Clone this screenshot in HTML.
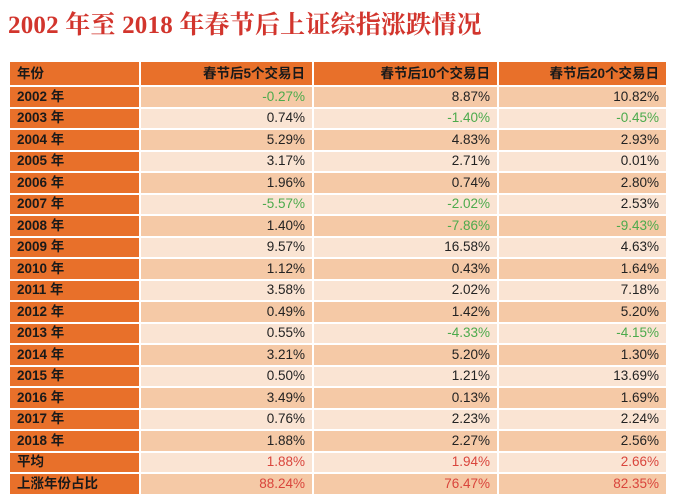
<!DOCTYPE html>
<html><head><meta charset="utf-8">
<style>
body{margin:0;width:700px;height:497px;background:#fff;overflow:hidden;font-family:"Liberation Sans","Noto Sans CJK SC",sans-serif;}
h1{position:absolute;left:8px;top:5px;margin:0;font-family:"Liberation Serif","Noto Serif CJK SC",serif;font-weight:bold;font-size:25px;color:#d2352d;letter-spacing:0.2px;}
table{position:absolute;left:10px;top:62px;border-collapse:separate;border-spacing:2px 2px;margin:-2px;}
td{height:19.5px;box-sizing:border-box;padding:0 7px;font-size:13.5px;line-height:14px;text-align:right;color:#222;white-space:nowrap;}
tr.h td{height:23px;}
td.y{background:#e8702a;color:#1a1a1a;font-weight:bold;text-align:left;width:129px;}
tr.h td{background:#e8702a;font-weight:bold;color:#1a1a1a;}
tr.a td.v{background:#f5c9a6;}
tr.b td.v{background:#fae4d3;}
.g{color:#4caa4c !important;}
.r{color:#d9453c !important;}
</style></head><body>
<h1>2002 年至 2018 年春节后上证综指涨跌情况</h1>
<table id="t">
<tr class="h"><td class="y">年份</td><td style="width:171px">春节后5个交易日</td><td style="width:183px">春节后10个交易日</td><td style="width:167px">春节后20个交易日</td></tr>
</table>
<script>
const years=["2002 年","2003 年","2004 年","2005 年","2006 年","2007 年","2008 年","2009 年","2010 年","2011 年","2012 年","2013 年","2014 年","2015 年","2016 年","2017 年","2018 年","平均","上涨年份占比"];
const d5=[-0.27,0.74,5.29,3.17,1.96,-5.57,1.40,9.57,1.12,3.58,0.49,0.55,3.21,0.50,3.49,0.76,1.88,1.88,88.24];
const d10=[8.87,-1.40,4.83,2.71,0.74,-2.02,-7.86,16.58,0.43,2.02,1.42,-4.33,5.20,1.21,0.13,2.23,2.27,1.94,76.47];
const d20=[10.82,-0.45,2.93,0.01,2.80,2.53,-9.43,4.63,1.64,7.18,5.20,-4.15,1.30,13.69,1.69,2.24,2.56,2.66,82.35];
const t=document.getElementById('t');
years.forEach((y,i)=>{
 const tr=document.createElement('tr');
 tr.className=i%2===0?'a':'b';
 
 
 const c=document.createElement('td');c.className='y';c.textContent=y;
 
 
 tr.appendChild(c);
 [d5,d10,d20].forEach(arr=>{
  const v=arr[i];const td=document.createElement('td');
  td.className='v'+(i>=17?' r':(v<0?' g':''));
  td.textContent=v.toFixed(2)+'%';
  
  
  tr.appendChild(td);
 });
 t.appendChild(tr);
});
</script>
</body></html>
